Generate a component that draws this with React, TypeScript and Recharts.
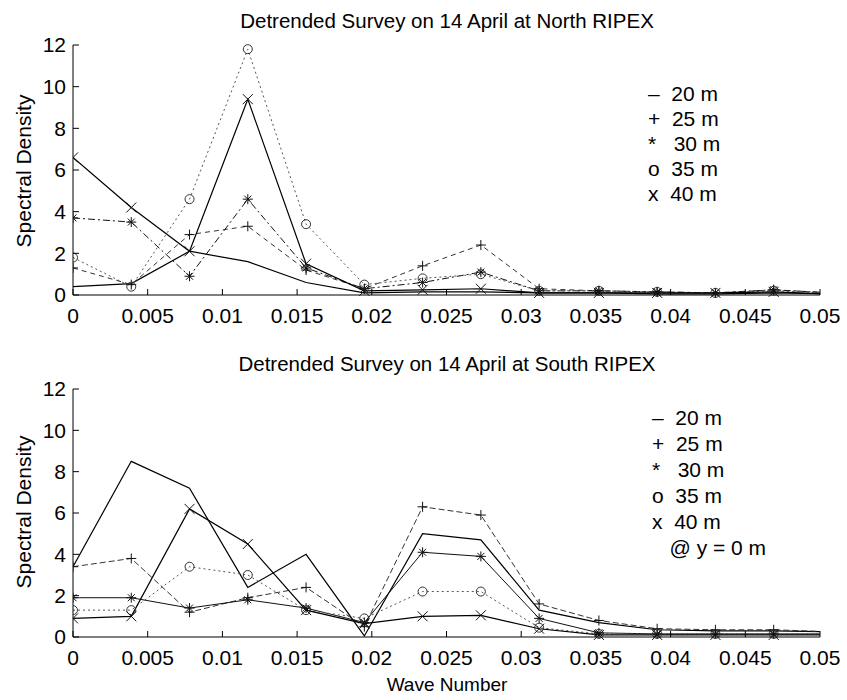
import React from "react";
import { LineChart, Line, XAxis, YAxis } from "recharts";

// wave numbers (cycles per metre), 1/256 spacing
const waveNumbers = [0, 0.0039, 0.0078, 0.0117, 0.0156, 0.0195, 0.0234, 0.0273, 0.0312, 0.0352, 0.0391, 0.043, 0.0469, 0.0508];
const xTicks = [0, 0.005, 0.01, 0.015, 0.02, 0.025, 0.03, 0.035, 0.04, 0.045, 0.05];
const yTicks = [0, 2, 4, 6, 8, 10, 12];

// North RIPEX
const north20 = [0.4, 0.55, 2.1, 1.6, 0.6, 0.1, 0.15, 0.15, 0.1, 0.1, 0.05, 0.05, 0.1, 0.05];
const north25 = [1.3, 0.5, 2.9, 3.3, 1.2, 0.3, 1.4, 2.4, 0.3, 0.2, 0.15, 0.1, 0.25, 0.1];
const north30 = [3.7, 3.5, 0.9, 4.6, 1.3, 0.3, 0.6, 1.1, 0.2, 0.2, 0.15, 0.1, 0.25, 0.1];
const north35 = [1.8, 0.4, 4.6, 11.8, 3.4, 0.5, 0.8, 1.0, 0.2, 0.2, 0.15, 0.1, 0.2, 0.1];
const north40 = [6.6, 4.2, 2.1, 9.4, 1.5, 0.2, 0.25, 0.3, 0.1, 0.1, 0.1, 0.1, 0.15, 0.05];

// South RIPEX
const south20 = [3.4, 8.5, 7.2, 2.4, 4.0, 0.05, 5.0, 4.7, 1.3, 0.7, 0.35, 0.3, 0.3, 0.25];
const south25 = [3.4, 3.8, 1.2, 1.9, 2.4, 0.5, 6.3, 5.9, 1.6, 0.8, 0.4, 0.35, 0.35, 0.25];
const south30 = [1.9, 1.9, 1.4, 1.8, 1.4, 0.7, 4.1, 3.9, 0.9, 0.2, 0.15, 0.15, 0.15, 0.15];
const south35 = [1.3, 1.3, 3.4, 3.0, 1.3, 0.9, 2.2, 2.2, 0.45, 0.15, 0.15, 0.15, 0.15, 0.15];
const south40 = [0.9, 1.0, 6.2, 4.5, 1.3, 0.65, 1.0, 1.05, 0.4, 0.1, 0.1, 0.1, 0.1, 0.1];

const FONT = "'Liberation Sans', Arial, Helvetica, sans-serif";

const northData = waveNumbers.map((k, i) => ({
  k,
  d20: north20[i],
  d25: north25[i],
  d30: north30[i],
  d35: north35[i],
  d40: north40[i],
}));

const southData = waveNumbers.map((k, i) => ({
  k,
  d20: south20[i],
  d25: south25[i],
  d30: south30[i],
  d35: south35[i],
  d40: south40[i],
}));

const fmtX = (v: number) => String(+v.toFixed(3));

const S = 5;

function marker(kind: string) {
  return (props: any) => {
    const { cx, cy, index } = props;
    if (cx == null || cy == null || cx > 821) return <g key={`m-${index}`} />;
    let d = "";
    if (kind === "+") d = `M${cx - S},${cy}H${cx + S}M${cx},${cy - S}V${cy + S}`;
    if (kind === "x") d = `M${cx - S},${cy - S}L${cx + S},${cy + S}M${cx - S},${cy + S}L${cx + S},${cy - S}`;
    if (kind === "*") {
      const t = S * 0.7;
      d = `M${cx - S},${cy}H${cx + S}M${cx},${cy - S}V${cy + S}M${cx - t},${cy - t}L${cx + t},${cy + t}M${cx - t},${cy + t}L${cx + t},${cy - t}`;
    }
    if (kind === "o") {
      return <circle key={`m-${index}`} cx={cx} cy={cy} r={S - 0.5} fill="none" stroke="#333" strokeWidth={1} />;
    }
    return <path key={`m-${index}`} d={d} fill="none" stroke="#111" strokeWidth={1} />;
  };
}

const BottomTick = (props: any) => {
  const { x, y, payload } = props;
  const axisY = y - 13;
  return (
    <g>
      <line x1={x} x2={x} y1={axisY} y2={axisY - 6} stroke="#000" />
      <text x={x} y={y} dy="0.71em" textAnchor="middle" fontSize={21} fontFamily={FONT} fill="#000">
        {fmtX(payload.value)}
      </text>
    </g>
  );
};

const TopTick = (props: any) => {
  const { x, y } = props;
  return <line x1={x} x2={x} y1={y} y2={y + 6} stroke="#000" />;
};

const LeftTick = (props: any) => {
  const { x, y, payload } = props;
  const axisX = x + 7;
  return (
    <g>
      <line x1={axisX} x2={axisX + 6} y1={y} y2={y} stroke="#000" />
      <text x={x} y={y} dy="0.355em" textAnchor="end" fontSize={21} fontFamily={FONT} fill="#000">
        {payload.value}
      </text>
    </g>
  );
};

const RightTick = (props: any) => {
  const { x, y } = props;
  return <line x1={x} x2={x - 6} y1={y} y2={y} stroke="#000" />;
};

function Panel({ data, height, south }: { data: any[]; height: number; south: boolean }) {
  return (
    <LineChart width={847} height={height} data={data} margin={{ top: 45, right: 27, bottom: 0, left: 0 }}>
      <XAxis
        dataKey="k"
        type="number"
        domain={[0, 0.05]}
        ticks={xTicks}
        allowDataOverflow
        height={35}
        tickSize={0}
        tickMargin={13}
        tick={<BottomTick />}
        axisLine={{ stroke: "#000" }}
        interval={0}
      />
      <XAxis
        xAxisId="top"
        dataKey="k"
        type="number"
        orientation="top"
        domain={[0, 0.05]}
        ticks={xTicks}
        allowDataOverflow
        height={0}
        tickSize={0}
        tickMargin={0}
        tick={<TopTick />}
        axisLine={{ stroke: "#000" }}
        interval={0}
      />
      <YAxis
        type="number"
        domain={[0, 12]}
        ticks={yTicks}
        width={73}
        tickSize={0}
        tickMargin={7}
        tick={<LeftTick />}
        axisLine={{ stroke: "#000" }}
        interval={0}
      />
      <YAxis
        yAxisId="right"
        orientation="right"
        type="number"
        domain={[0, 12]}
        ticks={yTicks}
        width={0}
        tickSize={0}
        tickMargin={0}
        tick={<RightTick />}
        axisLine={{ stroke: "#000" }}
        interval={0}
      />
      <Line dataKey="d20" stroke="#000" strokeWidth={1.2} dot={false} isAnimationActive={false} />
      <Line
        dataKey="d25"
        stroke="#333"
        strokeWidth={1}
        strokeDasharray={south ? "6 3" : "5 4"}
        dot={marker("+")}
        isAnimationActive={false}
      />
      <Line
        dataKey="d30"
        stroke="#111"
        strokeWidth={1}
        strokeDasharray={south ? undefined : "7 3 2 3"}
        dot={marker("*")}
        isAnimationActive={false}
      />
      <Line
        dataKey="d35"
        stroke="#555"
        strokeWidth={1}
        strokeDasharray="2 3"
        dot={marker("o")}
        isAnimationActive={false}
      />
      <Line dataKey="d40" stroke="#000" strokeWidth={1.2} dot={marker("x")} isAnimationActive={false} />
    </LineChart>
  );
}

const abs = (left: number, top: number, extra: React.CSSProperties = {}): React.CSSProperties => ({
  position: "absolute",
  left,
  top,
  fontFamily: FONT,
  color: "#000",
  whiteSpace: "pre",
  lineHeight: 1,
  ...extra,
});

const northLegend = ["–  20 m", "+  25 m", "*   30 m", "o  35 m", "x  40 m"];
const southLegend = ["–  20 m", "+  25 m", "*   30 m", "o  35 m", "x  40 m", "   @ y = 0 m"];

export default function App() {
  return (
    <div style={{ position: "absolute", left: 0, top: 0, width: 847, height: 700, background: "#fff", overflow: "hidden" }}>
      <div style={{ position: "absolute", left: 0, top: 0 }}>
        <Panel data={northData} height={330} south={false} />
      </div>
      <div style={{ position: "absolute", left: 0, top: 344 }}>
        <Panel data={southData} height={328} south={true} />
      </div>

      <div style={abs(447, 21, { fontSize: 20.5, transform: "translate(-50%, -50%)" })}>
        Detrended Survey on 14 April at North RIPEX
      </div>
      <div style={abs(447, 364, { fontSize: 20.5, transform: "translate(-50%, -50%)" })}>
        Detrended Survey on 14 April at South RIPEX
      </div>

      <div style={abs(23, 171, { fontSize: 21, transform: "translate(-50%, -50%) rotate(-90deg)" })}>Spectral Density</div>
      <div style={abs(23, 512, { fontSize: 21, transform: "translate(-50%, -50%) rotate(-90deg)" })}>Spectral Density</div>

      <div style={abs(447, 684, { fontSize: 19, transform: "translate(-50%, -50%)" })}>Wave Number</div>

      {northLegend.map((t, i) => (
        <div key={t} style={abs(648, 93 + i * 25, { fontSize: 21, transform: "translateY(-50%)" })}>
          {t}
        </div>
      ))}
      {southLegend.map((t, i) => (
        <div key={t} style={abs(652, 417 + i * 26, { fontSize: 21, transform: "translateY(-50%)" })}>
          {t}
        </div>
      ))}
    </div>
  );
}
